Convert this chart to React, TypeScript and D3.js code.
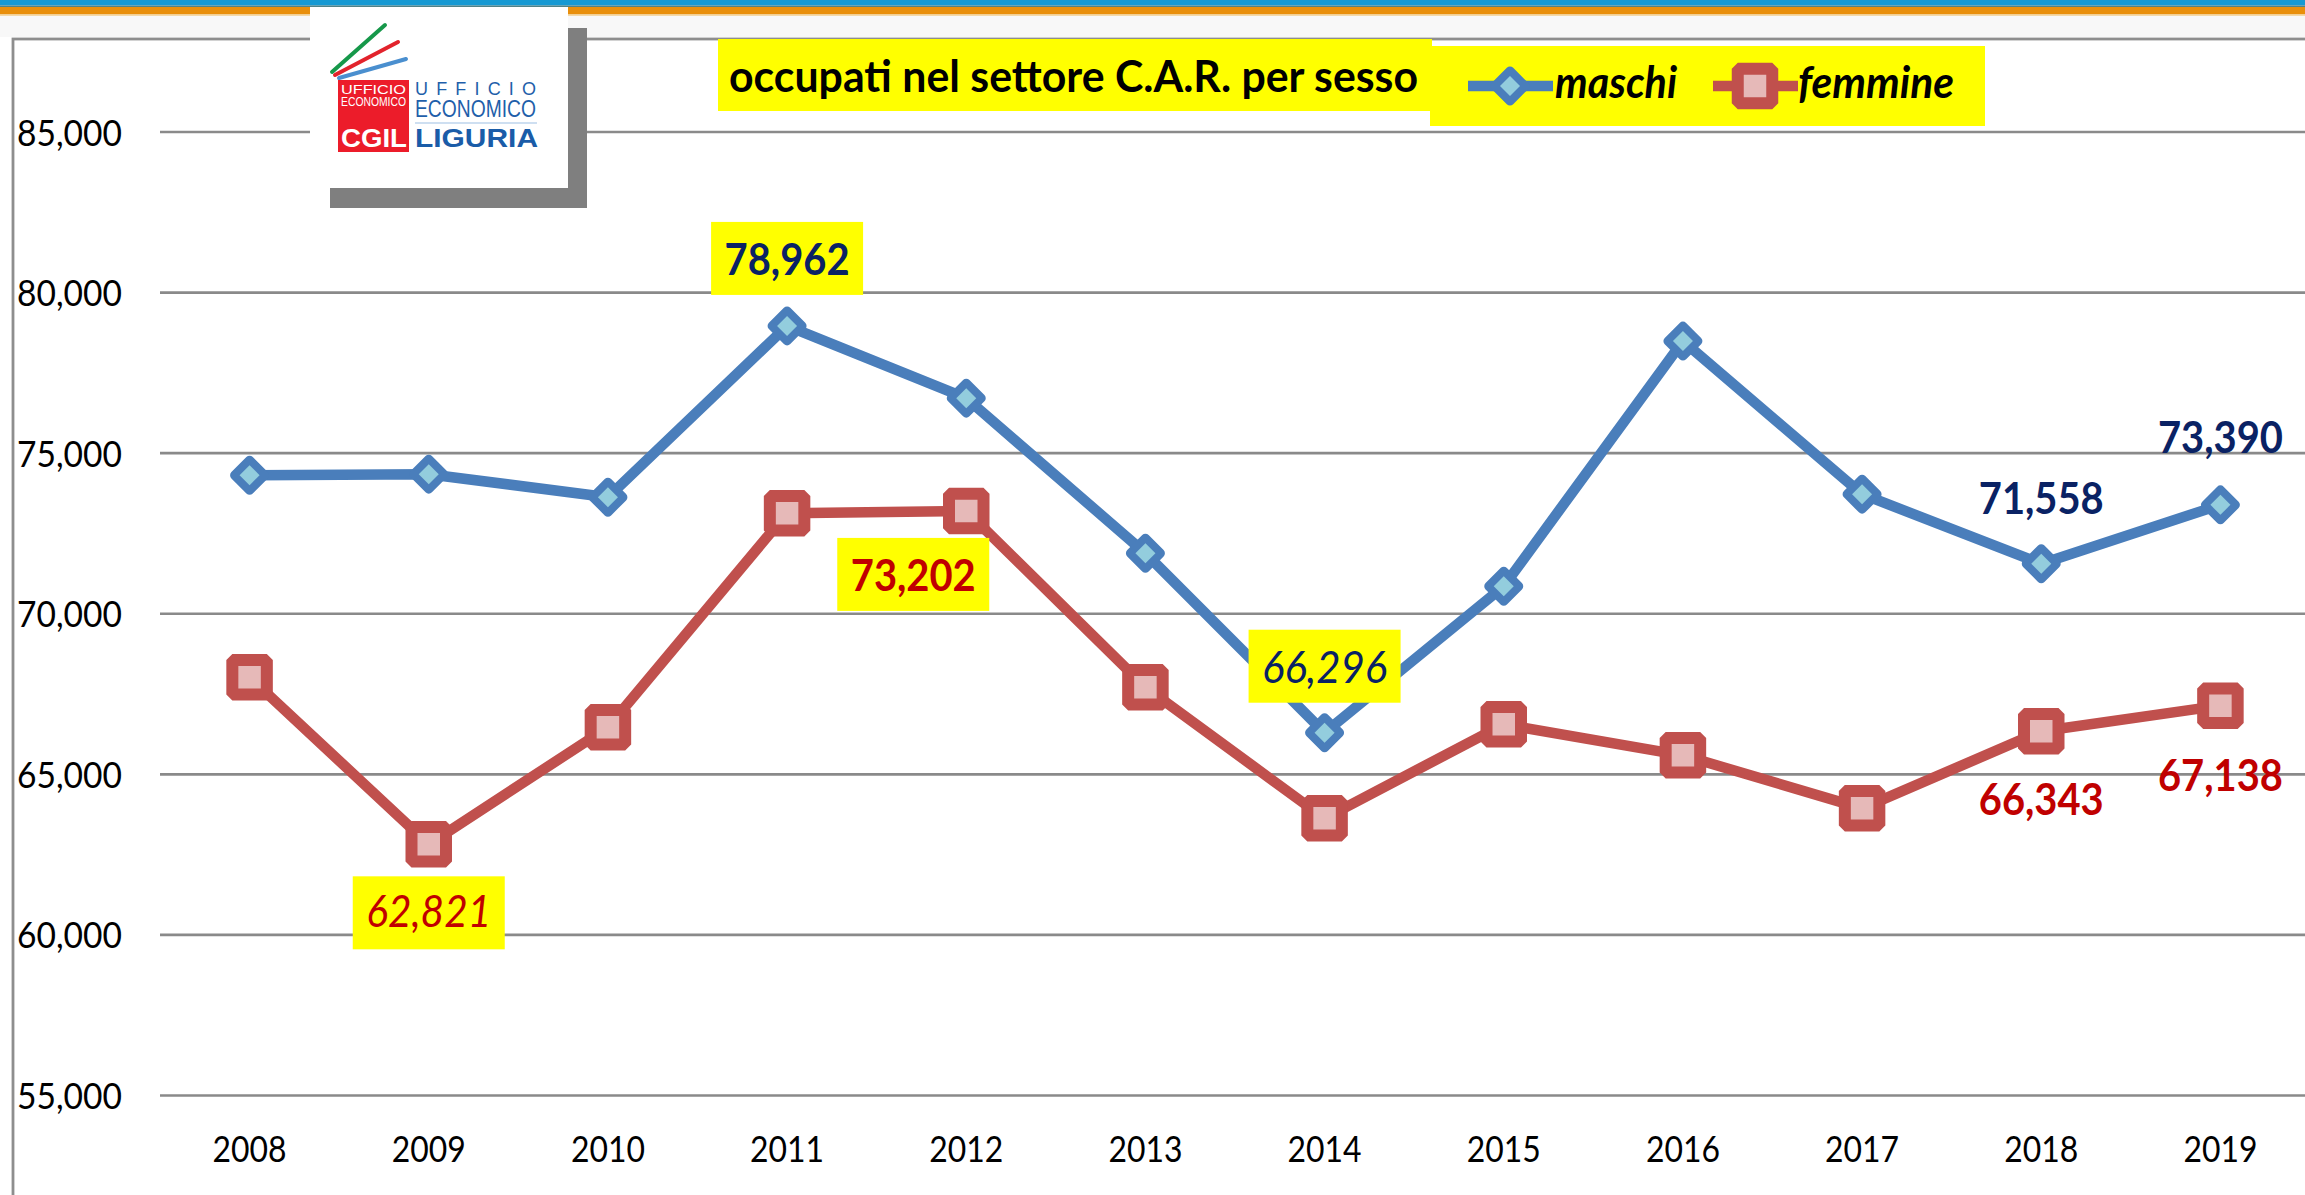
import React from "react";
import * as d3 from "d3";

const years = [2008, 2009, 2010, 2011, 2012, 2013, 2014, 2015, 2016, 2017, 2018, 2019];
const maschi = [74314, 74346, 73629, 78962, 76713, 71885, 66296, 70857, 78489, 73723, 71558, 73390];
const femmine = [68022, 62821, 66464, 73131, 73202, 67710, 63629, 66558, 65592, 63941, 66343, 67138];
const yTicks = [55000, 60000, 65000, 70000, 75000, 80000, 85000];
const titleText = "occupati nel settore C.A.R. per sesso";
const seriesNames = ["maschi", "femmine"];

// labelled points: series index, year
const callouts = [
  { s: 0, year: 2011, box: true, italic: false },
  { s: 1, year: 2012, box: true, italic: false },
  { s: 0, year: 2014, box: true, italic: true },
  { s: 1, year: 2009, box: true, italic: true },
  { s: 0, year: 2018, box: false, italic: false },
  { s: 0, year: 2019, box: false, italic: false },
  { s: 1, year: 2018, box: false, italic: false },
  { s: 1, year: 2019, box: false, italic: false },
];
// layout offsets (relative to point): dx of box center, baseline dy, box top dy
const calloutLayout: Record<string, { dx: number; base: number; top: number }> = {
  "0-2011": { dx: 0, base: -51, top: -104 },
  "1-2012": { dx: -53, base: 80, top: 27 },
  "0-2014": { dx: 0, base: -50, top: -103 },
  "1-2009": { dx: 0, base: 83, top: 32 },
  "0-2018": { dx: 0, base: -50, top: 0 },
  "0-2019": { dx: 0, base: -52, top: 0 },
  "1-2018": { dx: 0, base: 84, top: 0 },
  "1-2019": { dx: 0, base: 85, top: 0 },
};

const W = 2305;
const H = 1195;
const BLUE = "#4A7EBB";
const BLUE_FILL = "#93CDDD";
const RED = "#C0504D";
const RED_FILL = "#E6B9B8";
const NAVY = "#0A2264";
const DRED = "#C00000";
const FONT = "Lato, 'Open Sans', sans-serif";

const fmt = d3.format(",");

function Diamond({ cx, cy }: { cx: number; cy: number }) {
  const r = 15;
  const ri = 10;
  const p = (rr: number) => `M${cx},${cy - rr}L${cx + rr},${cy}L${cx},${cy + rr}L${cx - rr},${cy}Z`;
  return (
    <g>
      <path d={p(r)} fill={BLUE} stroke={BLUE} strokeWidth={9} strokeLinejoin="round" />
      <path d={p(ri)} fill={BLUE_FILL} />
    </g>
  );
}

function Square({ cx, cy }: { cx: number; cy: number }) {
  const s = 34.5;
  return (
    <rect x={cx - s / 2} y={cy - s / 2} width={s} height={s} fill={RED_FILL} stroke={RED} strokeWidth={12} strokeLinejoin="bevel" />
  );
}

export default function App() {
  const xb = d3.scaleBand<number>().domain(years).range([160, 2310]);
  const x = (yr: number) => (xb(yr) as number) + xb.bandwidth() / 2;
  const y = d3.scaleLinear().domain([55000, 85000]).range([1095.5, 132]);
  const series = [maschi, femmine];
  const line = d3
    .line<number>()
    .x((_, i) => x(years[i]))
    .y((d) => y(d));

  return (
    <svg width={W} height={H} style={{ position: "absolute", left: 0, top: 0, background: "#fff" }} fontFamily={FONT}>
      {/* top band */}
      <rect x={0} y={0} width={W} height={37} fill="#F8F8F8" />
      <rect x={0} y={0} width={W} height={5.5} fill="#1699D3" />
      <rect x={0} y={5.5} width={W} height={1.5} fill="#4F8288" />
      <rect x={0} y={7} width={W} height={7.5} fill="#E98F0B" />
      <rect x={0} y={14.5} width={W} height={1.5} fill="#F4D9A8" />
      {/* frame */}
      <rect x={13} y={39} width={W} height={H} fill="#fff" stroke="#8E8E8E" strokeWidth={2.8} />

      {/* gridlines */}
      {yTicks.map((t) => (
        <line key={t} x1={160} x2={W} y1={y(t)} y2={y(t)} stroke="#8A8A8A" strokeWidth={2.6} />
      ))}
      {/* y tick labels */}
      {yTicks.map((t) => (
        <text key={t} x={122} y={y(t) + 13.5} textAnchor="end" fontSize={37} fill="#000" textLength={105} lengthAdjust="spacingAndGlyphs">
          {fmt(t)}
        </text>
      ))}
      {/* x tick labels */}
      {years.map((yr) => (
        <text key={yr} x={x(yr)} y={1162} textAnchor="middle" fontSize={37} fill="#000" textLength={74} lengthAdjust="spacingAndGlyphs">
          {yr}
        </text>
      ))}

      {/* lines */}
      <path d={line(maschi) as string} fill="none" stroke={BLUE} strokeWidth={10.5} strokeLinejoin="round" />
      <path d={line(femmine) as string} fill="none" stroke={RED} strokeWidth={10.5} strokeLinejoin="round" />
      {maschi.map((v, i) => (
        <Diamond key={"m" + i} cx={x(years[i])} cy={y(v)} />
      ))}
      {femmine.map((v, i) => (
        <Square key={"f" + i} cx={x(years[i])} cy={y(v)} />
      ))}

      {/* callouts */}
      {callouts.map((c) => {
        const i = years.indexOf(c.year);
        const v = series[c.s][i];
        const lay = calloutLayout[`${c.s}-${c.year}`];
        const cx = x(c.year) + lay.dx;
        const cy = y(v);
        const color = c.s === 0 ? NAVY : DRED;
        return (
          <g key={`${c.s}-${c.year}`}>
            {c.box && <rect x={cx - 76} y={cy + lay.top} width={152} height={73} fill="#FFFF00" />}
            <text
              x={cx}
              y={cy + lay.base}
              textAnchor="middle"
              fontSize={44}
              fontWeight={c.italic ? 400 : 700}
              fontStyle={c.italic ? "italic" : "normal"}
              fill={color}
              textLength={125}
              lengthAdjust="spacingAndGlyphs"
            >
              {fmt(v)}
            </text>
          </g>
        );
      })}

      {/* title */}
      <rect x={718} y={39} width={714} height={72} fill="#FFFF00" />
      <text x={729} y={92} fontSize={44} fontWeight={700} fill="#000" textLength={689} lengthAdjust="spacingAndGlyphs">
        {titleText}
      </text>
      {/* legend */}
      <rect x={1430} y={46} width={555} height={80} fill="#FFFF00" />
      <line x1={1468} x2={1553} y1={86} y2={86} stroke={BLUE} strokeWidth={10.5} />
      <Diamond cx={1510} cy={86} />
      <text x={1555} y={98} fontSize={44} fontWeight={700} fontStyle="italic" fill="#000" textLength={122} lengthAdjust="spacingAndGlyphs">
        {seriesNames[0]}
      </text>
      <line x1={1713} x2={1798} y1={86} y2={86} stroke={RED} strokeWidth={10.5} />
      <Square cx={1755} cy={86} />
      <text x={1798} y={98} fontSize={44} fontWeight={700} fontStyle="italic" fill="#000" textLength={156} lengthAdjust="spacingAndGlyphs">
        {seriesNames[1]}
      </text>

      {/* logo */}
      <rect x={330} y={28} width={257} height={180} fill="#7F7F7F" />
      <rect x={310} y={7} width={258} height={181} fill="#fff" />
      <line x1={332} y1={72} x2={385} y2={25} stroke="#16984A" strokeWidth={4} strokeLinecap="round" />
      <line x1={335} y1={75} x2={398} y2={42} stroke="#E2232C" strokeWidth={4} strokeLinecap="round" />
      <line x1={339} y1={78} x2={406} y2={59} stroke="#4A8FCF" strokeWidth={4} strokeLinecap="round" />
      <rect x={338} y={80} width={71} height={72} fill="#EC1C2A" />
      <text x={341} y={94} fontSize={12} fill="#fff" textLength={65} lengthAdjust="spacingAndGlyphs" fontFamily="'Liberation Sans', sans-serif">
        UFFICIO
      </text>
      <text x={341} y={106} fontSize={12} fill="#fff" textLength={65} lengthAdjust="spacingAndGlyphs" fontFamily="'Liberation Sans', sans-serif">
        ECONOMICO
      </text>
      <text x={341} y={147} fontSize={26} fontWeight={900} fill="#fff" textLength={66} lengthAdjust="spacingAndGlyphs" fontFamily="'Liberation Sans', sans-serif">
        CGIL
      </text>
      <text x={415} y={95} fontSize={18} fill="#1F5FAA" textLength={121} lengthAdjust="spacing" fontFamily="'Liberation Sans', sans-serif">
        UFFICIO
      </text>
      <text x={415} y={117} fontSize={23} fill="#1F5FAA" textLength={121} lengthAdjust="spacingAndGlyphs" fontFamily="'Liberation Sans', sans-serif">
        ECONOMICO
      </text>
      <line x1={415} x2={537} y1={123} y2={123} stroke="#9DBFE3" strokeWidth={1.2} />
      <text x={415} y={147} fontSize={26} fontWeight={700} fill="#1A5CA8" textLength={123} lengthAdjust="spacingAndGlyphs" fontFamily="'Liberation Sans', sans-serif">
        LIGURIA
      </text>
    </svg>
  );
}
